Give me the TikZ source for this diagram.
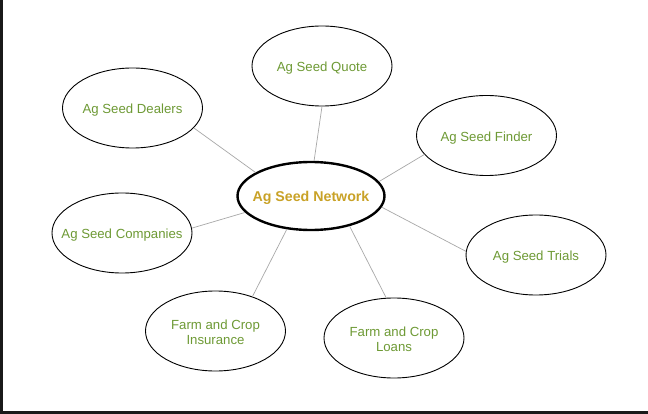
\documentclass[tikz,border=0pt]{standalone}
\usepackage{fontspec}
\setmainfont{Liberation Sans}
\usetikzlibrary{shapes.geometric}
\definecolor{txtgreen}{HTML}{6E9A35}
\definecolor{txtgold}{HTML}{C9A227}
\definecolor{linkgray}{HTML}{A8A8A8}
\newcommand\lbl[1]{\makebox[0pt]{\raisebox{-5.8pt}[0pt][0pt]{\begin{tabular}{@{}c@{}}#1\end{tabular}}}}
\tikzset{
  bubble/.style={ellipse, draw=black, line width=0.9pt, minimum width=140pt, minimum height=80pt,
    inner sep=0pt, text=txtgreen, font=\fontsize{13.2}{15}\selectfont},
  hub/.style={ellipse, draw=black, line width=2.4pt, minimum width=147pt, minimum height=68pt,
    inner sep=0pt, text=txtgold, font=\fontsize{14.2}{16}\selectfont\bfseries},
  link/.style={draw=linkgray, line width=0.7pt}
}
\begin{document}
\begin{tikzpicture}[x=1pt,y=-1pt]
\useasboundingbox (0,0) rectangle (648,414);
\fill[white] (0,0) rectangle (648,414);
\fill[black!90] (0,0) rectangle (2.5,414);
\fill[black!90] (0,411) rectangle (648,414);

\node[hub] (net) at (311,196) {\lbl{Ag Seed Network}};
\node[bubble] (quote) at (322,66) {\lbl{Ag Seed Quote}};
\node[bubble] (dealers) at (132.5,108) {\lbl{Ag Seed Dealers}};
\node[bubble] (finder) at (486.5,135.5) {\lbl{Ag Seed Finder}};
\node[bubble] (comp) at (122,233) {\lbl{Ag Seed Companies}};
\node[bubble] (trials) at (536,255) {\lbl{Ag Seed Trials}};
\node[bubble] (ins) at (215.5,331) {\lbl{Farm and Crop\\Insurance}};
\node[bubble] (loans) at (394,338) {\lbl{Farm and Crop\\Loans}};

\draw[link] (dealers.-18) -- (net.157);
\draw[link] (quote.-90) -- (net.85);
\draw[link] (finder.-163) -- (net.12);
\draw[link] (comp.4) -- (net.194);
\draw[link] (trials.177) -- (net.-9);
\draw[link] (ins.43) -- (net.-126);
\draw[link] (loans.101) -- (net.-38);
\end{tikzpicture}
\end{document}
